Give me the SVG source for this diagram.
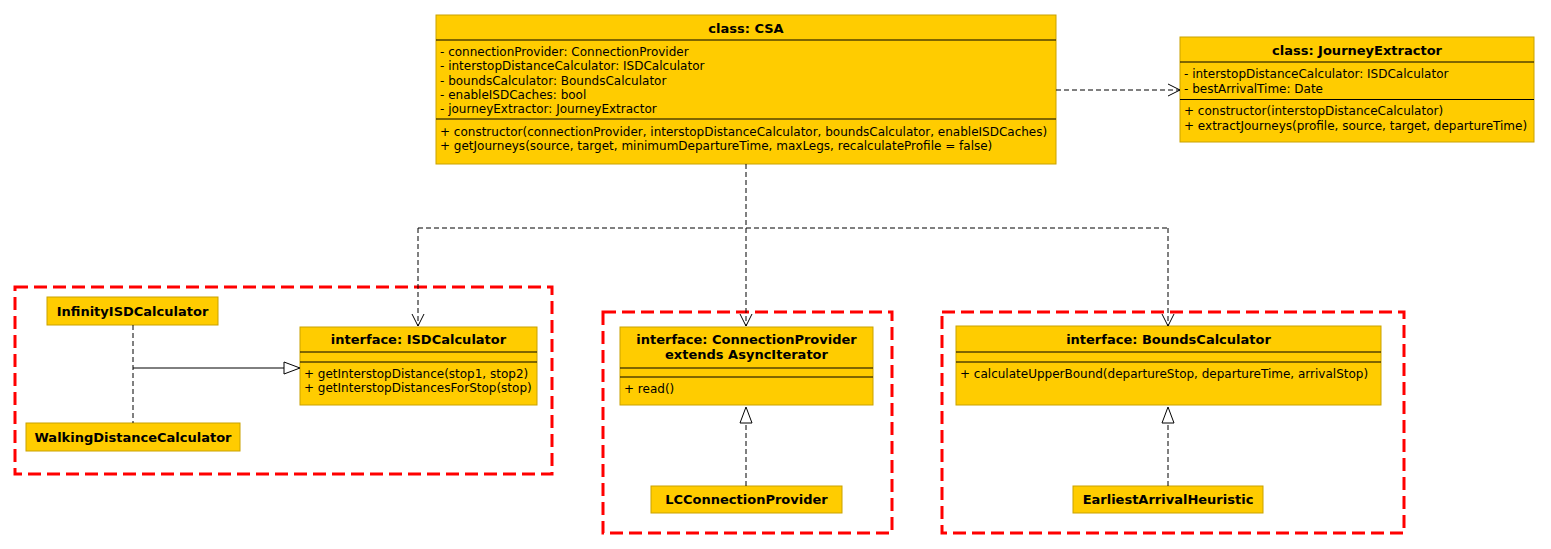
<svg xmlns="http://www.w3.org/2000/svg" width="1551" height="549" viewBox="0 0 1551 549">
<style>
.box{fill:#FFCC00;stroke:#C9A200;stroke-width:1}
.hl{fill:none;stroke:#FFE135;stroke-width:1}
.sep{stroke:#000;stroke-width:1}
.t{font-family:"DejaVu Sans",Verdana,sans-serif;font-size:12px;fill:#000}
.h{font-family:"DejaVu Sans",Verdana,sans-serif;font-size:13px;font-weight:bold;fill:#000;text-anchor:middle}
.cl{fill:none;stroke:#FF0000;stroke-width:3;stroke-dasharray:13,6}
.dash{fill:none;stroke:#000;stroke-width:1;stroke-dasharray:5,3}
.solid{fill:none;stroke:#000;stroke-width:1}
.tri{fill:#fff;stroke:#000;stroke-width:1}
</style>
<defs>
<marker id="open" viewBox="0 0 14 14" refX="13" refY="7" markerWidth="14" markerHeight="14" markerUnits="userSpaceOnUse" orient="auto">
<path d="M1,1 L13,7 L1,13" fill="none" stroke="#000" stroke-width="1"/>
</marker>
</defs>
<rect width="1551" height="549" fill="#fff"/>

<g id="clusters">
<rect class="cl" x="15" y="287" width="537" height="187"/>
<rect class="cl" x="603" y="312" width="289" height="221"/>
<rect class="cl" x="942" y="312" width="462" height="221"/>
</g>

<g id="CSA">
<rect class="box" x="436" y="15" width="620" height="149"/>
<text class="h" x="746" y="32.5">class: CSA</text>
<line class="sep" x1="436" y1="40" x2="1056" y2="40"/>
<text class="t" x="440" y="56">- connectionProvider: ConnectionProvider</text>
<text class="t" x="440" y="70">- interstopDistanceCalculator: ISDCalculator</text>
<text class="t" x="440" y="84.5">- boundsCalculator: BoundsCalculator</text>
<text class="t" x="440" y="98.5">- enableISDCaches: bool</text>
<text class="t" x="440" y="112.5">- journeyExtractor: JourneyExtractor</text>
<line class="sep" x1="436" y1="119" x2="1056" y2="119"/>
<text class="t" x="440" y="136">+ constructor(connectionProvider, interstopDistanceCalculator, boundsCalculator, enableISDCaches)</text>
<text class="t" x="440" y="150">+ getJourneys(source, target, minimumDepartureTime, maxLegs, recalculateProfile = false)</text>
</g>

<g id="JourneyExtractor">
<rect class="box" x="1180" y="37" width="354" height="105"/>
<text class="h" x="1357" y="54.5">class: JourneyExtractor</text>
<line class="sep" x1="1180" y1="62" x2="1534" y2="62"/>
<text class="t" x="1184" y="77.5">- interstopDistanceCalculator: ISDCalculator</text>
<text class="t" x="1184" y="92.5">- bestArrivalTime: Date</text>
<line class="sep" x1="1180" y1="99.5" x2="1534" y2="99.5"/>
<text class="t" x="1184" y="114.5">+ constructor(interstopDistanceCalculator)</text>
<text class="t" x="1184" y="130">+ extractJourneys(profile, source, target, departureTime)</text>
</g>

<g id="ISDCalculator">
<rect class="box" x="300" y="327" width="237" height="78"/>
<text class="h" x="418.5" y="344">interface: ISDCalculator</text>
<line class="sep" x1="300" y1="352" x2="537" y2="352"/>
<line class="sep" x1="300" y1="362" x2="537" y2="362"/>
<text class="t" x="304" y="378">+ getInterstopDistance(stop1, stop2)</text>
<text class="t" x="304" y="392">+ getInterstopDistancesForStop(stop)</text>
</g>

<g id="InfinityISDCalculator">
<rect class="box" x="47" y="297" width="171" height="28"/>
<text class="h" x="132.5" y="315.5">InfinityISDCalculator</text>
</g>

<g id="WalkingDistanceCalculator">
<rect class="box" x="26" y="423" width="214" height="28"/>
<text class="h" x="133" y="441.5">WalkingDistanceCalculator</text>
</g>

<g id="ConnectionProvider">
<rect class="box" x="620" y="327" width="253" height="78"/>
<text class="h" x="746.5" y="343.5">interface: ConnectionProvider</text>
<text class="h" x="746.5" y="358.5">extends AsyncIterator</text>
<line class="sep" x1="620" y1="368" x2="873" y2="368"/>
<line class="sep" x1="620" y1="377" x2="873" y2="377"/>
<text class="t" x="624" y="393">+ read()</text>
</g>

<g id="LCConnectionProvider">
<rect class="box" x="651" y="486" width="191" height="27"/>
<text class="h" x="746.5" y="504">LCConnectionProvider</text>
</g>

<g id="BoundsCalculator">
<rect class="box" x="956" y="326" width="425" height="79"/>
<text class="h" x="1168.5" y="344">interface: BoundsCalculator</text>
<line class="sep" x1="956" y1="352" x2="1381" y2="352"/>
<line class="sep" x1="956" y1="362" x2="1381" y2="362"/>
<text class="t" x="960" y="378">+ calculateUpperBound(departureStop, departureTime, arrivalStop)</text>
</g>

<g id="EarliestArrivalHeuristic">
<rect class="box" x="1073" y="486" width="190" height="27"/>
<text class="h" x="1168" y="504">EarliestArrivalHeuristic</text>
</g>

<g id="connectors">
<line class="dash" x1="1056" y1="90" x2="1180" y2="90" marker-end="url(#open)"/>
<path class="dash" d="M746,164 V228"/>
<path class="dash" d="M418,228 H1168"/>
<path class="dash" d="M418,228 V326" marker-end="url(#open)"/>
<path class="dash" d="M746,228 V326" marker-end="url(#open)"/>
<path class="dash" d="M1168,228 V326" marker-end="url(#open)"/>
<path class="dash" d="M133,325 V423"/>
<path class="solid" d="M133,368 H284"/>
<path class="tri" d="M284,362 L300,368 L284,374 Z"/>
<path class="dash" d="M746,486 V423"/>
<path class="tri" d="M740,423 L746,407 L752,423 Z"/>
<path class="dash" d="M1168,486 V423"/>
<path class="tri" d="M1162,423 L1168,407 L1174,423 Z"/>
</g>
</svg>
